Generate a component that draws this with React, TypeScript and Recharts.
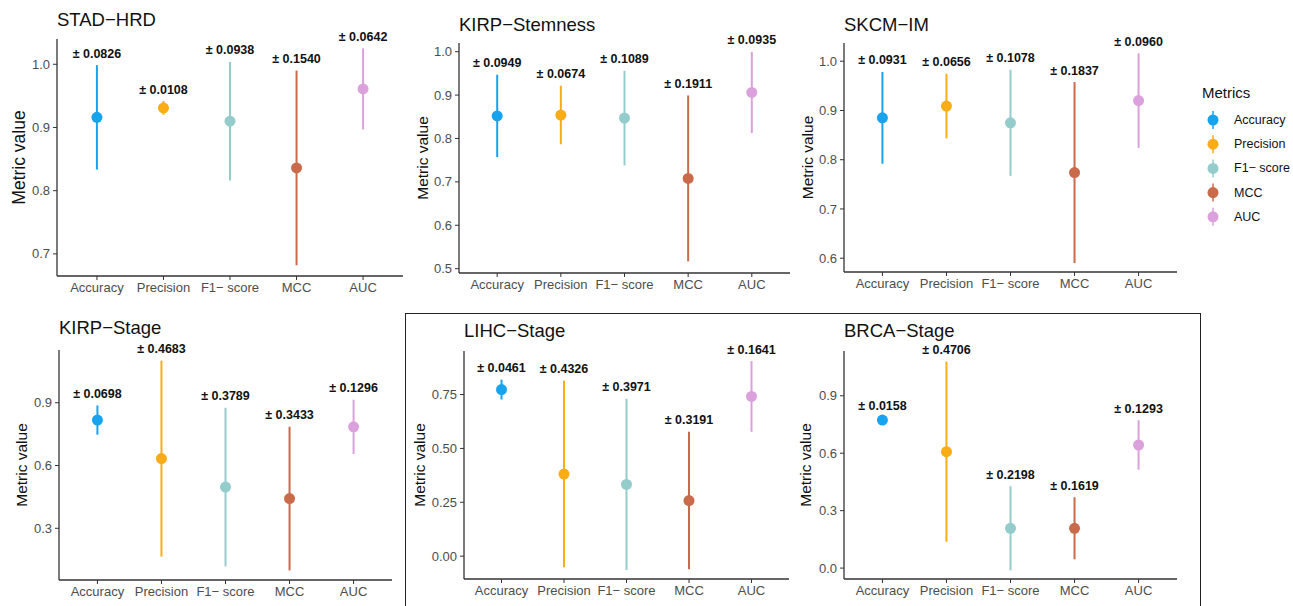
import React from "react";
import { ErrorBar, LabelList, Scatter, ScatterChart, XAxis, YAxis } from "recharts";

const metrics = ["Accuracy", "Precision", "F1\u2212 score", "MCC", "AUC"];
const colors = ["#18a3ee", "#f9ac16", "#94cccb", "#c96a4b", "#dba1dc"];

const stadHrdMean = [0.916, 0.931, 0.91, 0.836, 0.961];
const stadHrdSd = [0.0826, 0.0108, 0.0938, 0.154, 0.0642];

const kirpStemMean = [0.852, 0.854, 0.847, 0.708, 0.906];
const kirpStemSd = [0.0949, 0.0674, 0.1089, 0.1911, 0.0935];

const skcmImMean = [0.885, 0.909, 0.875, 0.774, 0.92];
const skcmImSd = [0.0931, 0.0656, 0.1078, 0.1837, 0.096];

const kirpStageMean = [0.817, 0.633, 0.497, 0.442, 0.785];
const kirpStageSd = [0.0698, 0.4683, 0.3789, 0.3433, 0.1296];

const lihcStageMean = [0.773, 0.381, 0.333, 0.258, 0.741];
const lihcStageSd = [0.0461, 0.4326, 0.3971, 0.3191, 0.1641];

const brcaStageMean = [0.773, 0.608, 0.208, 0.208, 0.643];
const brcaStageSd = [0.0158, 0.4706, 0.2198, 0.1619, 0.1293];

const ticksA = [0.7, 0.8, 0.9, 1.0];
const ticksB = [0.5, 0.6, 0.7, 0.8, 0.9, 1.0];
const ticksC = [0.6, 0.7, 0.8, 0.9, 1.0];
const ticksD = [0.3, 0.6, 0.9];
const ticksE = [0, 0.25, 0.5, 0.75];
const ticksF = [0, 0.3, 0.6, 0.9];

const font = "'Liberation Sans', Arial, Helvetica, sans-serif";

type PanelProps = {
  title: string;
  mean: number[];
  sd: number[];
  domain: [number, number];
  ticks: number[];
  decimals: number;
  plot: { x: number; y: number; w: number; h: number };
  labelX: number;
  labelSize: number;
  titleY: number;
};

function Panel({ title, mean, sd, domain, ticks, decimals, plot, labelX, titleY, labelSize }: PanelProps) {
  const chartLeft = labelX - 14;
  const yW = plot.x - chartLeft;
  const mTop = 30;
  const xH = 30;
  const width = yW + plot.w + 6;
  const height = mTop + plot.h + xH;
  const tops = mean.map((m, i) => ({ x: i + 1, y: m + sd[i], label: "\u00b1 " + sd[i].toFixed(4) }));

  return (
    <>
      <div
        style={{
          position: "absolute",
          left: plot.x,
          top: titleY - 17,
          fontSize: 18.5,
          lineHeight: "20px",
          color: "#111",
          whiteSpace: "nowrap"
        }}
      >
        {title}
      </div>
      <div style={{ position: "absolute", left: chartLeft, top: plot.y - mTop }}>
        <ScatterChart width={width} height={height} margin={{ top: mTop, right: 6, bottom: 0, left: 0 }}>
          <XAxis
            type="number"
            dataKey="x"
            domain={[0.4, 5.6]}
            ticks={[1, 2, 3, 4, 5]}
            allowDataOverflow
            tickFormatter={(v: number) => metrics[v - 1]}
            height={xH}
            tickSize={4}
            tickMargin={3}
            interval={0}
            axisLine={{ stroke: "#333", strokeWidth: 1.3 }}
            tickLine={{ stroke: "#333" }}
            tick={{ fill: "#4d4d4d", fontSize: 13 }}
          />
          <YAxis
            type="number"
            dataKey="y"
            domain={domain}
            ticks={ticks}
            allowDataOverflow
            width={yW}
            tickSize={4}
            tickMargin={3}
            tickFormatter={(v: number) => v.toFixed(decimals)}
            axisLine={{ stroke: "#333", strokeWidth: 1.3 }}
            tickLine={{ stroke: "#333" }}
            tick={{ fill: "#4d4d4d", fontSize: 13 }}
            label={{
              content: (p: any) => {
                const vb = p.viewBox || {};
                const cx = vb.x + 14;
                const cy = vb.y + vb.height / 2;
                return (
                  <text
                    x={cx}
                    y={cy}
                    transform={`rotate(-90 ${cx} ${cy})`}
                    textAnchor="middle"
                    dominantBaseline="central"
                    fontSize={labelSize}
                    fill="#111"
                  >
                    Metric value
                  </text>
                );
              }
            }}
          />
          {metrics.map((name, i) => (
            <Scatter
              key={name}
              name={name}
              data={[{ x: i + 1, y: mean[i], err: sd[i] }]}
              isAnimationActive={false}
              shape={(p: any) => <circle cx={p.cx} cy={p.cy} r={5.5} fill={colors[i]} />}
            >
              <ErrorBar dataKey="err" direction="y" width={0} strokeWidth={2} stroke={colors[i]} />
            </Scatter>
          ))}
          <Scatter data={tops} isAnimationActive={false} shape={() => <g />}>
            <LabelList
              dataKey="label"
              content={(p: any) => (
                <text x={p.x + p.width / 2} y={p.y - 3} textAnchor="middle" fontSize={12.5} fontWeight="bold" fill="#111">
                  {p.value}
                </text>
              )}
            />
          </Scatter>
        </ScatterChart>
      </div>
    </>
  );
}

function MetricsLegend() {
  return (
    <svg style={{ position: "absolute", left: 1195, top: 80 }} width={98} height={150}>
      <text x={7} y={18} fontSize={15} fill="#111">
        Metrics
      </text>
      {metrics.map((name, i) => {
        const cy = 40 + i * 24.2;
        return (
          <g key={name}>
            <line x1={18} x2={18} y1={cy - 9} y2={cy + 9} stroke={colors[i]} strokeWidth={1.5} />
            <circle cx={18} cy={cy} r={5.5} fill={colors[i]} />
            <text x={39} y={cy} dominantBaseline="central" fontSize={12.5} fill="#111">
              {name}
            </text>
          </g>
        );
      })}
    </svg>
  );
}

export default function App() {
  return (
    <div
      style={{
        position: "absolute",
        left: 0,
        top: 0,
        width: 1293,
        height: 606,
        background: "#fff",
        overflow: "hidden",
        fontFamily: font
      }}
    >
      <div
        style={{
          position: "absolute",
          left: 405,
          top: 313,
          width: 794,
          height: 300,
          border: "1.5px solid #222"
        }}
      />
      <Panel
        title={"STAD\u2212HRD"}
        mean={stadHrdMean}
        sd={stadHrdSd}
        domain={[0.665, 1.04]}
        ticks={ticksA}
        decimals={1}
        plot={{ x: 57, y: 39, w: 346, h: 237 }}
        labelX={19}
        labelSize={17.5}
        titleY={27}
      />
      <Panel
        title={"KIRP\u2212Stemness"}
        mean={kirpStemMean}
        sd={kirpStemSd}
        domain={[0.49, 1.02]}
        ticks={ticksB}
        decimals={1}
        plot={{ x: 459, y: 43, w: 331, h: 230 }}
        labelX={422}
        labelSize={15.5}
        titleY={32}
      />
      <Panel
        title={"SKCM\u2212IM"}
        mean={skcmImMean}
        sd={skcmImSd}
        domain={[0.572, 1.037]}
        ticks={ticksC}
        decimals={1}
        plot={{ x: 844, y: 43, w: 333, h: 229 }}
        labelX={807}
        labelSize={15.5}
        titleY={32}
      />
      <Panel
        title={"KIRP\u2212Stage"}
        mean={kirpStageMean}
        sd={kirpStageSd}
        domain={[0.053, 1.152]}
        ticks={ticksD}
        decimals={1}
        plot={{ x: 59, y: 350, w: 333, h: 230 }}
        labelX={21}
        labelSize={15.5}
        titleY={335}
      />
      <Panel
        title={"LIHC\u2212Stage"}
        mean={lihcStageMean}
        sd={lihcStageSd}
        domain={[-0.106, 0.952]}
        ticks={ticksE}
        decimals={2}
        plot={{ x: 464, y: 351, w: 325, h: 228 }}
        labelX={419}
        labelSize={15.5}
        titleY={338}
      />
      <Panel
        title={"BRCA\u2212Stage"}
        mean={brcaStageMean}
        sd={brcaStageSd}
        domain={[-0.057, 1.134]}
        ticks={ticksF}
        decimals={1}
        plot={{ x: 844, y: 351, w: 333, h: 228 }}
        labelX={805}
        labelSize={15.5}
        titleY={338}
      />
      <MetricsLegend />
    </div>
  );
}
